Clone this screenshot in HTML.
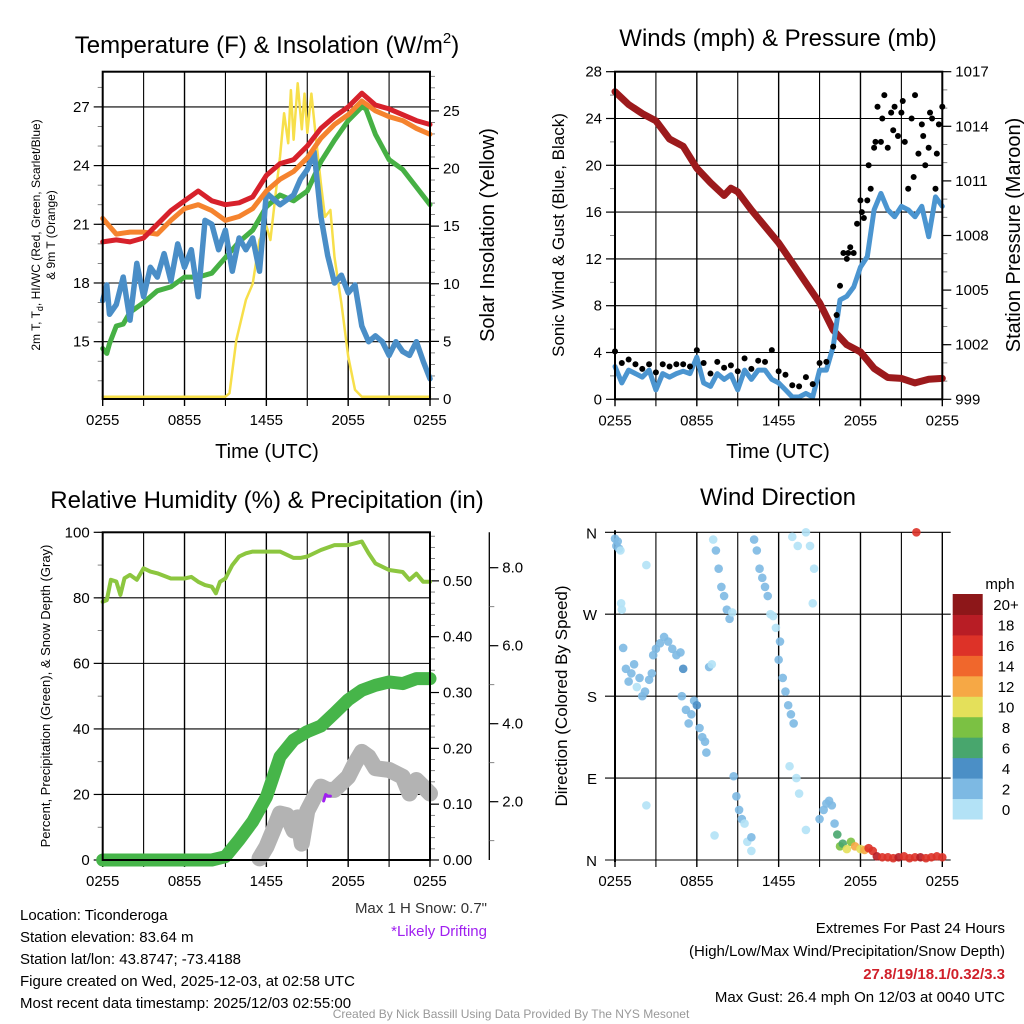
<!DOCTYPE html>
<html><head><meta charset="utf-8"><style>
html,body{margin:0;padding:0;background:#fff;}
svg{display:block;font-family:"Liberation Sans",Arial,sans-serif;}
</style></head><body>
<svg id="c" width="1024" height="1024" viewBox="0 0 1024 1024">
<text x="267" y="53" font-size="24" text-anchor="middle">Temperature (F) &amp; Insolation (W/m<tspan font-size="15" dy="-10">2</tspan><tspan dy="10">)</tspan></text>
<text x="778" y="46" font-size="24" text-anchor="middle">Winds (mph) &amp; Pressure (mb)</text>
<text x="267" y="508" font-size="24" text-anchor="middle">Relative Humidity (%) &amp; Precipitation (in)</text>
<text x="778" y="505" font-size="24" text-anchor="middle">Wind Direction</text>
<g font-size="12" text-anchor="middle">
<text transform="translate(40,235) rotate(-90)">2m T, T<tspan font-size="9" dy="3">d</tspan><tspan dy="-3">, HI/WC (Red, Green, Scarlet/Blue)</tspan></text>
<text transform="translate(55,235) rotate(-90)">&amp; 9m T (Orange)</text></g>
<text transform="translate(494,235) rotate(-90)" font-size="20" text-anchor="middle">Solar Insolation (Yellow)</text>
<text transform="translate(564,235) rotate(-90)" font-size="17" text-anchor="middle">Sonic Wind &amp; Gust (Blue, Black)</text>
<text transform="translate(1020,235) rotate(-90)" font-size="20" text-anchor="middle">Station Pressure (Maroon)</text>
<text transform="translate(50,696) rotate(-90)" font-size="13" text-anchor="middle">Percent, Precipitation (Green), &amp; Snow Depth (Gray)</text>
<text transform="translate(567,696) rotate(-90)" font-size="17" text-anchor="middle">Direction (Colored By Speed)</text>
<text x="267" y="458" font-size="20" text-anchor="middle">Time (UTC)</text>
<text x="778" y="458" font-size="20" text-anchor="middle">Time (UTC)</text>
<text x="1000" y="589" font-size="15" text-anchor="middle">mph</text>
<g font-size="15">
<text x="20" y="920">Location: Ticonderoga</text>
<text x="20" y="942">Station elevation: 83.64 m</text>
<text x="20" y="964">Station lat/lon: 43.8747; -73.4188</text>
<text x="20" y="986">Figure created on Wed, 2025-12-03, at 02:58 UTC</text>
<text x="20" y="1008">Most recent data timestamp: 2025/12/03 02:55:00</text></g>
<text x="487" y="913" font-size="15" text-anchor="end" fill="#333">Max 1 H Snow: 0.7"</text>
<text x="487" y="936" font-size="15" text-anchor="end" fill="#a020f0">*Likely Drifting</text>
<g font-size="15" text-anchor="end">
<text x="1005" y="933">Extremes For Past 24 Hours</text>
<text x="1005" y="956">(High/Low/Max Wind/Precipitation/Snow Depth)</text>
<text x="1005" y="979" fill="#d0202a" font-weight="bold">27.8/19/18.1/0.32/3.3</text>
<text x="1005" y="1002">Max Gust: 26.4 mph On 12/03 at 0040 UTC</text></g>
<text x="511" y="1018" font-size="12" text-anchor="middle" fill="#999">Created By Nick Bassill Using Data Provided By The NYS Mesonet</text>
</svg>
<script>
// ---- time axis ----
const timeLabels = ["0255","0855","1455","2055","0255"];
// ---- temperature panel ----
const tHours = [0,1,2,3,4,5,6,7,8,9,10,11,12,13,14,15,16,17,18,19,20,21,22,23,24];
const temp2m = [20.1,20.2,20.1,20.3,21.0,21.7,22.2,22.7,22.2,22.0,22.1,22.4,23.5,24.1,24.3,25.0,25.9,26.5,27.0,27.7,27.1,26.9,26.6,26.3,26.1];
const temp9m = [21.3,20.5,20.6,20.6,20.5,21.2,21.8,22.0,21.7,21.2,21.4,21.8,22.7,23.3,23.7,24.4,25.4,26.1,26.6,27.3,26.8,26.5,26.3,25.9,25.6];
const dewHours = [0,0.3,0.5,1,1.5,2,3,4,5,6,7,8,9,10,11,12,13,14,15,16,17,18,19,19.3,20,21,22,23,24];
const dewpoint = [14.65,14.4,14.9,15.8,15.9,16.5,17.0,17.6,17.8,18.3,18.3,18.5,19.3,20.1,20.7,21.9,22.5,22.2,22.7,24.2,25.3,26.3,27.0,26.9,25.6,24.3,23.8,22.9,22.0];
const hiHours = [0,0.3,0.5,1,1.5,2,2.5,3,3.5,4,4.5,5,5.5,6,6.5,7,7.5,8,8.5,9,9.5,10,10.5,11,11.5,12,13,14,14.5,15,15.5,16,16.5,17,17.5,18,18.5,19,19.5,20,20.5,21,21.5,22,22.5,23,23.5,24];
const heatIndex = [17.1,17.9,16.4,16.9,18.3,16.1,19.0,17.3,18.8,18.3,19.5,18.1,20.0,18.8,19.7,17.3,21.2,21.0,19.7,20.7,18.6,20.3,19.7,20.3,18.6,22.6,22.0,22.5,23.3,23.8,24.7,21.4,19.4,18.0,18.4,17.5,17.9,15.8,15.0,15.3,15.0,14.3,15.0,14.5,14.3,15.0,14.0,13.1];
const solarHours = [0,8,9,9.3,9.8,10.5,11,11.5,12,12.3,12.7,13,13.3,13.6,13.8,14,14.3,14.6,14.8,15,15.3,15.6,16,16.3,16.7,17,17.5,18,18.5,19,20,24];
const solar = [0.2,0.2,0.2,0.5,5.1,8.6,10,13.8,15,13.8,18,21,24.8,22.2,26.8,22.5,27.4,23.4,26.5,23.1,26.5,23.1,18.7,15.8,16.4,12.3,8.3,3.7,0.8,0.2,0.2,0.2];
// ---- wind / pressure panel ----
const presHours = [0,1,2,3,4,5,6,7,8,8.5,9,10,11,12,13,14,15,16,17,18,19,20,21,22,23,24];
const pressure = [1015.9,1015.2,1014.7,1014.3,1013.3,1012.9,1011.7,1010.9,1010.2,1010.6,1010.4,1009.4,1008.5,1007.6,1006.5,1005.4,1004.3,1002.8,1002.0,1001.6,1000.7,1000.2,1000.15,999.9,1000.1,1000.15];
const windHours = [0,0.5,1,1.5,2,2.5,3,3.5,4,4.5,5,5.5,6,6.5,7,7.5,8,8.5,9,9.5,10,10.5,11,11.5,12,12.5,13,13.5,14,14.5,15,15.5,16,16.5,17,17.5,18,18.5,19,19.5,20,20.5,21,21.5,22,22.5,23,23.5,24];
const sonicWind = [2.8,1.4,2.5,2.2,1.9,2.5,0.8,2.2,1.9,2.2,2.4,2.2,3.6,1.4,1.1,2.2,1.7,2.1,0.8,2.5,1.7,2.5,2.5,1.7,1.4,0.8,0.2,0.2,0.5,0.2,2.5,2.5,4.5,8.5,8.8,9.6,11.3,12.2,16.2,17.6,16.2,15.6,16.5,16.2,15.6,16.5,13.9,17.3,16.5];
const gustHours = [0,0.5,1,1.5,2,2.5,3,3.5,4,4.5,5,5.5,6,6.5,7,7.5,8,8.5,9,9.5,10,10.5,11,11.5,12,12.5,13,13.5,14,14.5,15,15.5,16,16.25,16.5,16.75,17,17.25,17.5,17.75,18,18.25,18.5,18.75,19,19.25,19.5,19.75,20,20.25,20.5,20.75,21,21.25,21.5,21.75,22,22.25,22.5,22.75,23,23.25,23.5,23.75,24,19.1,19.6,20.4,21.1,21.9,22.6,23.1,23.6,17.1,18.1,18.6];
const gust = [4.1,3.1,3.4,3.0,2.6,3.0,2.3,3.0,2.8,3.0,3.0,2.8,4.2,3.1,2.2,3.2,2.7,2.9,2.4,3.5,2.6,3.3,3.2,4.2,2.4,2.1,1.2,1.1,1.9,1.3,3.1,3.2,4.5,7.2,9.7,12.5,12.0,13.0,12.5,15.0,17.0,15.5,17.0,18.0,21.5,25.0,22.0,26.0,21.5,24.5,25.0,22.5,24.5,22.0,18.0,24.0,26.0,21.0,23.5,20.0,21.5,24.0,18.0,23.5,25.0,22.0,24.0,23.0,25.5,19.0,22.5,24.5,21.0,12.5,16.0,20.0];
// ---- humidity panel ----
const rhHours = [0,0.3,0.6,1,1.3,1.6,2,2.5,3,3.5,4,5,6,6.5,7,7.5,8,8.3,8.6,9,9.5,10,10.5,11,12,13,14,14.5,15,16,17,18,19,19.5,20,21,22,22.5,23,23.5,24];
const humidity = [78.8,79.3,85.5,85.0,80.9,86.0,87.0,85.5,89.0,88.0,87.5,85.9,85.9,86.4,84.9,83.9,83.4,81.4,84.9,85.9,90.0,92.6,93.6,94.1,94.1,94.1,92.2,92.2,92.6,94.6,96.1,96.1,97.2,93.6,90.5,88.5,87.9,85.5,87.4,84.9,84.9];
const precipHours = [0,8,9,10,11,12,12.5,13,14,15,16,17,18,19,20,21,22,23,24];
const precip = [0,0,0.006,0.036,0.069,0.113,0.149,0.185,0.215,0.23,0.24,0.263,0.287,0.304,0.313,0.319,0.316,0.325,0.325];
const snowHours = [11.5,12,12.5,13,13.5,14,14.3,14.6,15,15.5,16,16.5,17,17.5,18,18.5,19,19.5,20,21,22,22.5,23,23.5,24];
const snowPct = [0.5,4,9,14.2,13.7,9,13,5,15,19,22.4,21.4,21.4,23.4,25.4,29.5,33,31.5,28,27.5,25.4,20.3,24.4,22.4,20.3];
const driftHours = [16.2,16.35,16.5,16.7];
const driftPct = [18,20,19.5,19.5];
// ---- wind direction panel ----
const dirHours = [0,0.1,0.2,0.3,0.4,2.3,0.45,0.5,0.6,0.8,1.0,1.2,1.4,1.6,1.8,2.0,2.2,2.5,2.7,2.8,3.0,3.3,3.6,3.9,4.2,4.5,4.8,5.0,4.9,5.2,5.4,5.6,5.8,6.0,6.2,6.4,6.6,6.7,6.9,7.1,2.3,7.2,7.4,7.6,7.8,8.0,8.2,8.4,8.6,7.3,8.7,8.9,9.1,9.3,9.5,9.7,10.0,10.0,10.2,10.4,10.6,10.8,11.0,11.2,11.4,11.6,11.8,12.0,12.1,12.3,12.5,12.7,12.9,13.1,12.8,13.3,13.0,13.4,14.0,14.3,14.6,13.5,14.0,14.5,15.0,15.3,15.5,15.7,15.9,16.1,16.3,16.5,16.7,17.0,17.3,17.6,18.0,18.3,18.6,18.9,19.2,19.6,20.0,20.4,20.8,21.2,21.6,22.0,22.4,22.8,23.2,23.6,24.0,22.1];
const direction = [353,345,350,342,340,324,282,275,233,210,196,205,215,190,200,180,185,198,205,225,232,238,245,240,232,225,228,210,180,165,150,160,175,170,145,135,130,118,212,215,60,352,340,320,300,290,275,265,272,27,92,70,55,45,40,20,10,25,352,340,320,310,300,290,270,268,255,220,240,200,185,170,160,150,103,90,355,345,360,345,320,73,33,282,45,55,62,65,60,40,28,15,18,12,20,15,12,11,13,10,4,3,3,2,3,4,2,3,3,2,3,4,3,360];
const dirSpeed = [2,2,2,2,0,0,0,0,2,2,2,2,2,0,2,2,2,2,2,2,2,2,2,2,2,2,2,4,2,2,2,2,2,4,2,2,2,2,2,0,0,0,2,2,2,2,2,2,0,0,2,2,2,2,0,0,0,2,2,2,2,2,2,2,0,0,0,2,2,2,2,2,2,2,0,0,0,0,0,0,0,0,0,0,2,2,2,2,2,2,6,8,6,10,8,12,10,12,16,16,18,16,16,16,18,16,16,16,18,16,16,16,16,16];
const barLabels = ["0","2","4","6","8","10","12","14","16","18","20+"];
const barColors = ["#b3e2f6","#7db9e3","#4b8fc6","#48a66d","#7bc143","#e4e05a","#f6a845","#f0672c","#dd3228","#b81d25","#8d1719"];

// ---------------- drawing ----------------
const NS = "http://www.w3.org/2000/svg";
const svg = document.getElementById("c");
function mk(tag, attrs, parent){ const e=document.createElementNS(NS,tag); for(const k in attrs) e.setAttribute(k,attrs[k]); (parent||svg).appendChild(e); return e; }
function scale(d0,d1,r0,r1){ return v => r0 + (v-d0)/(d1-d0)*(r1-r0); }
function linePath(xs, ys, sx, sy){ return xs.map((t,i)=>(i?"L":"M")+sx(t).toFixed(1)+","+sy(ys[i]).toFixed(1)).join(""); }

function frame(x0,x1,y0,y1,hx1,name){
  const g = mk("g",{});
  
  
  const sx = scale(0,24,x0,x1);
  for(let h=0; h<=24; h+=3){
    const l = mk("line",{x1:sx(h),x2:sx(h),y1:y0,y2:y1+7,stroke:"#000","stroke-width":h%6===0?1.4:1.1},g);
    
    
  }
  timeLabels.forEach((s,i)=>{
    const t = mk("text",{x:sx(i*6),y:y1+26,"font-size":15,"text-anchor":"middle"},g);
    
    
    t.textContent = s;
  });
  return {g,sx};
}
function yAxis(g,x,y0,y1,d0,d1,majors,minors,labelFn,side,grid,gx0,gx1,name){
  const sy = scale(d0,d1,y1,y0);
  const dir = side==="left"?-1:1;
  minors.forEach(v=>{ const yy=sy(v); if(yy<y0-0.5||yy>y1+0.5) return;
    const l=mk("line",{x1:x,x2:x+dir*5,y1:yy,y2:yy,stroke:"#666","stroke-width":0.8},g);
    
     });
  majors.forEach(v=>{ const yy=sy(v);
    if(grid){ const gl=mk("line",{x1:gx0,x2:gx1,y1:yy,y2:yy,stroke:"#000","stroke-width":1.1},g);
      
       }
    const l=mk("line",{x1:x,x2:x+dir*9,y1:yy,y2:yy,stroke:"#000","stroke-width":1.2},g);
    
    
    const t=mk("text",{x:x+dir*13,y:yy+5,"font-size":15,"text-anchor":side==="left"?"end":"start"},g);
    
    
    t.textContent = labelFn(v); });
  return sy;
}
function range(a,b,s){ const r=[]; for(let v=a; v<=b+1e-9; v+=s) r.push(+v.toFixed(4)); return r; }
function series(g,d,color,w,name,cap){
  const p=mk("path",{d:d,fill:"none",stroke:color,"stroke-width":w,"stroke-linejoin":"round","stroke-linecap":cap||"round"},g);
  
  
  return p;
}
function box(g,x0,x1,y0,y1,name){
  const r=mk("rect",{x:x0,y:y0,width:x1-x0,height:y1-y0,fill:"none",stroke:"#000","stroke-width":2},g);
  
  
}

// Panel 1: temperature
(function(){
  const X0=102.7,X1=430,Y0=71.7,Y1=399;
  const {g,sx} = frame(X0,X1,Y0,Y1,X1,"temperature-panel");
  const sy = yAxis(g,X0,Y0,Y1,12.07,28.8,[15,18,21,24,27],range(13,28,1),v=>v,"left",true,X0,X1,"temp-axis");
  const ss = yAxis(g,X1,Y0,Y1,0,28.4,[0,5,10,15,20,25],range(0,28,1),v=>v,"right",false,0,0,"solar-axis");
  series(g,linePath(solarHours,solar,sx,ss),"#f7df4a",2.5,"solar-line");
  series(g,linePath(dewHours,dewpoint,sx,sy),"#46b044",5,"dewpoint-line");
  series(g,linePath(hiHours,heatIndex,sx,sy),"#4a8ec7",5.5,"wind-chill-line");
  series(g,linePath(tHours,temp9m,sx,sy),"#f5832e",5,"temp-9m-line");
  series(g,linePath(tHours,temp2m,sx,sy),"#d7212b",5,"temp-2m-line");
  box(g,X0,X1,Y0,Y1,"temperature-plot-frame");
})();

// Panel 2: winds
(function(){
  const X0=615,X1=942.3,Y0=71.7,Y1=399.3;
  const {g,sx} = frame(X0,X1,Y0,Y1,X1,"winds-panel");
  const sy = yAxis(g,X0,Y0,Y1,0,28,range(0,28,4),range(0,28,2),v=>v,"left",true,X0,X1,"wind-axis");
  const sp = yAxis(g,X1,Y0,Y1,999,1017,range(999,1017,3),range(999,1017,1),v=>v,"right",false,0,0,"pressure-axis");
  series(g,linePath(presHours,pressure,sx,sp),"#9c1a1c",7,"pressure-line");
  series(g,linePath(windHours,sonicWind,sx,sy),"#4b95d0",5,"sonic-wind-line");
  gustHours.forEach((t,i)=>{
    const c=mk("circle",{cx:sx(t),cy:sy(gust[i]),r:3.0,fill:"#000"},g);
    
    
  });
  box(g,X0,X1,Y0,Y1,"winds-plot-frame");
})();

// Panel 3: humidity
(function(){
  const X0=102.7,X1=430,Y0=532.3,Y1=860;
  const {g,sx} = frame(X0,X1,Y0,Y1,X1,"humidity-panel");
  const sy = yAxis(g,X0,Y0,Y1,0,100,range(0,100,20),range(0,100,10),v=>v,"left",true,X0,X1,"rh-axis");
  const sp = yAxis(g,X1,Y0,Y1,0,0.587,range(0,0.5,0.1),range(0,0.58,0.02),v=>v.toFixed(2),"right",false,0,0,"precip-axis");
  const ax = mk("line",{x1:489.3,x2:489.3,y1:Y0,y2:Y1,stroke:"#000","stroke-width":1.3},g);
  
  
  yAxis(g,489.3,Y0,Y1,2-(Y1-801.7)/39,2+(801.7-Y0)/39,[2,4,6,8],range(1,9,1),v=>v.toFixed(1),"right",false,0,0,"snow-axis");
  series(g,linePath(rhHours,humidity,sx,sy),"#8cc63f",4,"humidity-line");
  series(g,linePath(snowHours,snowPct,sx,sy),"#b3b3b3",16,"snow-depth-line");
  series(g,linePath(precipHours,precip,sx,sp),"#46b549",13,"precip-line");
  series(g,linePath(driftHours,driftPct,sx,sy),"#a020f0",3,"drifting-line");
  box(g,X0,X1,Y0,Y1,"humidity-plot-frame");
})();

// Panel 4: wind direction
(function(){
  const X0=615,X1=942.3,Y0=532.3,Y1=860;
  const {g,sx} = frame(X0,X1,Y0,Y1,X1,"direction-panel");
  const sy = scale(0,360,Y1,Y0);
  ["N","E","S","W","N"].forEach((s,i)=>{
    const yy=sy(i*90);
    const gl=mk("line",{x1:X0-10,x2:950.7,y1:yy,y2:yy,stroke:"#000","stroke-width":1.1},g);
    
    
    const t=mk("text",{x:597,y:yy+6,"font-size":15,"text-anchor":"end"},g);
    
    
    t.textContent=s;
  });
  const ax=mk("line",{x1:X0,x2:X0,y1:Y0-2,y2:Y1+2,stroke:"#000","stroke-width":2},g);
  
  
  dirHours.forEach((t,i)=>{
    const col = barColors[Math.min(10,Math.floor(dirSpeed[i]/2))];
    const c=mk("circle",{cx:sx(t),cy:sy(direction[i]),r:4.3,fill:col,"fill-opacity":0.9},g);
    
    
  });
  const bx=952.7, bw=30, bTop=594, bBot=819, n=barColors.length, bh=(bBot-bTop)/n;
  barColors.forEach((c,i)=>{
    const y=bBot-(i+1)*bh;
    const r=mk("rect",{x:bx,y:y,width:bw,height:bh+0.5,fill:c},g);
    
    
    const t=mk("text",{x:1006,y:y+bh/2+6,"font-size":15,"text-anchor":"middle"},g);
    
    
    t.textContent=barLabels[i];
  });
})();
</script>
</body></html>
